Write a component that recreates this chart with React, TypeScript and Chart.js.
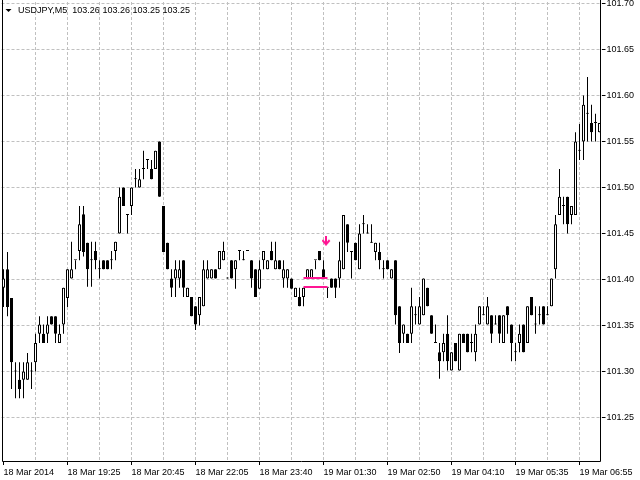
import React, { useEffect, useRef } from "react";
import { Chart, registerables } from "chart.js";

Chart.register(...registerables);

// ---- data (USDJPY, M5) ----
const openPrices = [
  101.391, 101.411, 101.380, 101.300, 101.291, 101.291, 101.291, 101.300, 101.310, 101.341,
  101.341, 101.341, 101.360, 101.360, 101.331, 101.351, 101.380, 101.401, 101.421, 101.431,
  101.471, 101.440, 101.421, 101.431, 101.411, 101.421, 101.421, 101.421, 101.431, 101.450,
  101.500, 101.470, 101.480, 101.509, 101.500, 101.520, 101.530, 101.520, 101.520, 101.550,
  101.480, 101.440, 101.401, 101.401, 101.401, 101.421, 101.381, 101.381, 101.371, 101.361,
  101.371, 101.401, 101.401, 101.411, 101.411, 101.421, 101.401, 101.421, 101.411, 101.431,
  101.421, 101.431, 101.421, 101.411, 101.390, 101.421, 101.411, 101.431, 101.411, 101.421,
  101.401, 101.401, 101.401, 101.381, 101.381, 101.381, 101.401, 101.401, 101.421, 101.431,
  101.411, 101.391, 101.401, 101.401, 101.401, 101.411, 101.460, 101.430, 101.440, 101.411,
  101.460, 101.450, 101.440, 101.430, 101.430, 101.411, 101.421, 101.401, 101.421, 101.371,
  101.341, 101.341, 101.341, 101.361, 101.351, 101.361, 101.391, 101.361, 101.331, 101.321,
  101.321, 101.341, 101.301, 101.331, 101.301, 101.341, 101.341, 101.331, 101.321, 101.351,
  101.361, 101.351, 101.361, 101.351, 101.361, 101.331, 101.371, 101.351, 101.321, 101.331,
  101.351, 101.331, 101.381, 101.351, 101.361, 101.371, 101.361, 101.371, 101.411, 101.470,
  101.480, 101.490, 101.470, 101.470, 101.540, 101.550, 101.580, 101.570, 101.570, 101.560,
];

const highPrices = [
  101.411, 101.430, 101.380, 101.310, 101.310, 101.310, 101.320, 101.310, 101.341, 101.360,
  101.351, 101.360, 101.360, 101.360, 101.351, 101.391, 101.411, 101.441, 101.421, 101.480,
  101.480, 101.440, 101.441, 101.441, 101.421, 101.421, 101.421, 101.431, 101.441, 101.500,
  101.500, 101.470, 101.500, 101.520, 101.520, 101.540, 101.530, 101.530, 101.540, 101.550,
  101.480, 101.440, 101.411, 101.421, 101.421, 101.421, 101.391, 101.381, 101.371, 101.381,
  101.421, 101.421, 101.411, 101.411, 101.431, 101.441, 101.401, 101.421, 101.421, 101.431,
  101.431, 101.431, 101.421, 101.411, 101.421, 101.431, 101.421, 101.441, 101.441, 101.421,
  101.421, 101.411, 101.401, 101.391, 101.391, 101.391, 101.411, 101.411, 101.421, 101.431,
  101.421, 101.391, 101.401, 101.401, 101.441, 101.470, 101.460, 101.430, 101.440, 101.460,
  101.470, 101.460, 101.460, 101.440, 101.440, 101.421, 101.421, 101.411, 101.421, 101.371,
  101.351, 101.341, 101.391, 101.371, 101.381, 101.401, 101.391, 101.361, 101.351, 101.331,
  101.341, 101.361, 101.321, 101.331, 101.341, 101.341, 101.341, 101.341, 101.351, 101.371,
  101.371, 101.381, 101.361, 101.361, 101.361, 101.361, 101.371, 101.351, 101.331, 101.351,
  101.351, 101.371, 101.381, 101.371, 101.371, 101.371, 101.371, 101.401, 101.470, 101.520,
  101.490, 101.490, 101.480, 101.560, 101.569, 101.600, 101.620, 101.590, 101.580, 101.570,
];

const lowPrices = [
  101.370, 101.360, 101.281, 101.271, 101.271, 101.271, 101.291, 101.281, 101.300, 101.331,
  101.331, 101.331, 101.351, 101.331, 101.331, 101.341, 101.370, 101.401, 101.411, 101.421,
  101.425, 101.392, 101.392, 101.411, 101.401, 101.411, 101.411, 101.411, 101.421, 101.450,
  101.480, 101.450, 101.470, 101.500, 101.500, 101.509, 101.520, 101.509, 101.520, 101.490,
  101.430, 101.411, 101.381, 101.381, 101.391, 101.381, 101.381, 101.360, 101.345, 101.350,
  101.371, 101.401, 101.401, 101.401, 101.411, 101.421, 101.401, 101.401, 101.390, 101.421,
  101.421, 101.431, 101.391, 101.381, 101.390, 101.411, 101.411, 101.421, 101.411, 101.411,
  101.391, 101.391, 101.390, 101.381, 101.371, 101.371, 101.401, 101.401, 101.411, 101.421,
  101.401, 101.380, 101.391, 101.380, 101.391, 101.411, 101.430, 101.401, 101.421, 101.411,
  101.450, 101.450, 101.440, 101.421, 101.411, 101.401, 101.411, 101.401, 101.351, 101.320,
  101.331, 101.331, 101.331, 101.351, 101.351, 101.361, 101.371, 101.341, 101.331, 101.292,
  101.311, 101.301, 101.301, 101.311, 101.301, 101.331, 101.321, 101.321, 101.311, 101.351,
  101.361, 101.351, 101.331, 101.351, 101.331, 101.331, 101.341, 101.311, 101.311, 101.321,
  101.321, 101.331, 101.361, 101.341, 101.351, 101.351, 101.361, 101.371, 101.401, 101.470,
  101.460, 101.450, 101.460, 101.470, 101.530, 101.530, 101.550, 101.550, 101.550, 101.560,
];

const closePrices = [
  101.401, 101.370, 101.310, 101.300, 101.281, 101.300, 101.310, 101.300, 101.331, 101.351,
  101.331, 101.351, 101.351, 101.341, 101.341, 101.391, 101.411, 101.411, 101.421, 101.460,
  101.430, 101.411, 101.421, 101.421, 101.411, 101.411, 101.411, 101.421, 101.441, 101.490,
  101.480, 101.470, 101.500, 101.509, 101.509, 101.520, 101.530, 101.509, 101.540, 101.490,
  101.430, 101.411, 101.391, 101.411, 101.411, 101.391, 101.391, 101.360, 101.351, 101.381,
  101.411, 101.411, 101.411, 101.401, 101.431, 101.431, 101.401, 101.401, 101.421, 101.431,
  101.421, 101.431, 101.401, 101.381, 101.411, 101.431, 101.421, 101.421, 101.421, 101.411,
  101.411, 101.411, 101.390, 101.391, 101.371, 101.391, 101.411, 101.411, 101.421, 101.421,
  101.401, 101.391, 101.391, 101.391, 101.421, 101.470, 101.440, 101.430, 101.421, 101.450,
  101.460, 101.450, 101.440, 101.440, 101.421, 101.411, 101.411, 101.411, 101.361, 101.331,
  101.351, 101.331, 101.371, 101.361, 101.371, 101.401, 101.371, 101.341, 101.331, 101.311,
  101.331, 101.311, 101.321, 101.311, 101.341, 101.331, 101.321, 101.331, 101.341, 101.371,
  101.361, 101.371, 101.341, 101.351, 101.341, 101.361, 101.361, 101.331, 101.321, 101.341,
  101.321, 101.371, 101.361, 101.351, 101.361, 101.351, 101.361, 101.401, 101.460, 101.490,
  101.480, 101.460, 101.480, 101.550, 101.540, 101.590, 101.580, 101.560, 101.570, 101.570,
];

const yTickValues = [101.25, 101.3, 101.35, 101.4, 101.45, 101.5, 101.55, 101.6, 101.65, 101.7];
const xTickLabels = [
  "18 Mar 2014", "18 Mar 19:25", "18 Mar 20:45", "18 Mar 22:05", "18 Mar 23:40",
  "19 Mar 01:30", "19 Mar 02:50", "19 Mar 04:10", "19 Mar 05:35", "19 Mar 06:55",
];
const LABEL_EVERY = 16; // bars between time labels
const GRID_EVERY = 8; // bars between vertical grid lines

// signal objects
const pinkLevels = [101.4016, 101.3918];
const pinkFromBar = 75;
const pinkToBar = 81;
const arrowBar = 81;
const arrowPrice = 101.442;

const headerText = "USDJPY,M5  103.26 103.26 103.25 103.25";

// axis bounds
const Y_MIN = 101.2027;
const Y_MAX = 101.7016;

const PINK = "#ff1493";
const GRID = "#c0c0c0";
const FONT = '"Liberation Sans", Arial, sans-serif';

function makeArrow(): HTMLCanvasElement {
  const c = document.createElement("canvas");
  c.width = 11;
  c.height = 10;
  const g = c.getContext("2d")!;
  g.fillStyle = PINK;
  g.strokeStyle = PINK;
  g.fillRect(3, 0, 2, 8);
  g.lineWidth = 2;
  g.lineCap = "square";
  g.beginPath();
  g.moveTo(1, 5);
  g.lineTo(4, 8.5);
  g.lineTo(7, 5);
  g.stroke();
  return c;
}

export default function App() {
  const ref = useRef<HTMLCanvasElement | null>(null);

  useEffect(() => {
    document.body.style.margin = "0";
    const canvas = ref.current;
    if (!canvas) return;

    const labels = openPrices.map((_, i) => String(i));
    const wicks = lowPrices.map((l, i) => [l, highPrices[i]]);
    const bodies = openPrices.map((o, i) => [o, closePrices[i]]);
    const bodyFill = openPrices.map((o, i) => (closePrices[i] > o ? "#ffffff" : "#000000"));
    const levelData = (v: number) =>
      labels.map((_, i) => (i >= pinkFromBar && i <= pinkToBar ? v : null));
    const arrowData = labels.map((_, i) => (i === arrowBar ? arrowPrice : null));

    const framePlugin = {
      id: "mtFrame",
      afterDatasetsDraw(chart: any) {
        const { ctx, chartArea } = chart;
        ctx.save();
        ctx.strokeStyle = "#000";
        ctx.lineWidth = 1;
        ctx.beginPath();
        const lx = chartArea.left + 1;
        const rx = chartArea.right - 1;
        const by = chartArea.bottom + 0.5;
        ctx.moveTo(lx, 0);
        ctx.lineTo(lx, by);
        ctx.lineTo(rx, by);
        ctx.lineTo(rx, 0);
        ctx.stroke();
        ctx.restore();
      },
      afterDraw(chart: any) {
        const { ctx } = chart;
        ctx.save();
        ctx.fillStyle = "#000";
        ctx.beginPath();
        ctx.moveTo(5.5, 9);
        ctx.lineTo(11.5, 9);
        ctx.lineTo(8.5, 12);
        ctx.closePath();
        ctx.fill();
        ctx.font = "9px " + FONT;
        ctx.textBaseline = "middle";
        ctx.textAlign = "left";
        ctx.fillText(headerText, 18, 10.5);
        ctx.restore();
      },
    };

    const chart = new Chart(canvas, {
      type: "bar",
      data: {
        labels,
        datasets: [
          {
            type: "line",
            data: levelData(pinkLevels[0]),
            borderColor: PINK,
            borderWidth: 2,
            pointRadius: 0,
            pointBorderWidth: 0,
            spanGaps: false,
            order: 0,
          } as any,
          {
            type: "line",
            data: levelData(pinkLevels[1]),
            borderColor: PINK,
            borderWidth: 2,
            pointRadius: 0,
            pointBorderWidth: 0,
            spanGaps: false,
            order: 0,
          } as any,
          {
            type: "line",
            data: arrowData,
            showLine: false,
            borderWidth: 0,
            pointBorderWidth: 0,
            pointStyle: makeArrow(),
            pointRadius: (c: any) => (c.dataIndex === arrowBar ? 5 : 0),
            order: 0,
          } as any,
          {
            data: bodies,
            backgroundColor: bodyFill,
            borderColor: "#000000",
            borderWidth: 1,
            borderSkipped: false,
            barThickness: 3,
            minBarLength: 1,
            grouped: false,
            inflateAmount: 0,
            order: 1,
          } as any,
          {
            data: wicks,
            backgroundColor: "#000000",
            borderWidth: 0,
            barThickness: 1,
            minBarLength: 1,
            grouped: false,
            inflateAmount: 0,
            order: 2,
          } as any,
        ],
      },
      options: {
        responsive: false,
        animation: false,
        devicePixelRatio: 1,
        events: [],
        layout: { padding: { left: 1.5, top: 2, right: 0, bottom: 0 } },
        plugins: {
          legend: { display: false },
          tooltip: { enabled: false },
        },
        scales: {
          x: {
            type: "category",
            offset: true,
            grid: {
              offset: false,
              lineWidth: 1,
              color: (c: any) => (c.tick && c.tick.value === 0 ? "rgba(0,0,0,0)" : GRID),
              tickLength: 4,
              tickWidth: 1,
              tickBorderDash: [],
              tickColor: (c: any) =>
                c.tick && c.tick.value % LABEL_EVERY === 0 ? "#000000" : "rgba(0,0,0,0)",
            },
            border: { display: false, dash: [3, 2] },
            afterBuildTicks: (s: any) => {
              const t: any[] = [];
              for (let i = 0; i < labels.length; i += GRID_EVERY) t.push({ value: i });
              s.ticks = t;
            },
            afterFit: (s: any) => {
              s.height = 19;
              s.paddingLeft = 0;
              s.paddingRight = 0;
            },
            ticks: {
              autoSkip: false,
              maxRotation: 0,
              minRotation: 0,
              align: "start",
              padding: 2,
              color: "#000000",
              font: { family: FONT, size: 9 },
              callback: (v: any) =>
                Number(v) % LABEL_EVERY === 0 ? xTickLabels[Number(v) / LABEL_EVERY] || "" : "",
            },
          },
          y: {
            type: "linear",
            position: "right",
            min: Y_MIN,
            max: Y_MAX,
            bounds: "data",
            grid: {
              color: GRID,
              lineWidth: 1,
              tickLength: 4,
              tickWidth: 1,
              tickBorderDash: [],
              tickColor: "#000000",
            },
            border: { display: false, dash: [3, 2] },
            afterBuildTicks: (s: any) => {
              s.ticks = yTickValues.map((v) => ({ value: v }));
            },
            afterFit: (s: any) => {
              s.width = 38.5;
              s.paddingTop = 0;
              s.paddingBottom = 0;
            },
            ticks: {
              autoSkip: false,
              padding: 1,
              color: "#000000",
              font: { family: FONT, size: 9 },
              callback: (v: any) => Number(v).toFixed(2),
            },
          },
        },
      } as any,
      plugins: [framePlugin],
    });

    return () => chart.destroy();
  }, []);

  return (
    <canvas
      ref={ref}
      width={640}
      height={480}
      style={{ position: "absolute", left: 0, top: 0, display: "block" }}
    />
  );
}
